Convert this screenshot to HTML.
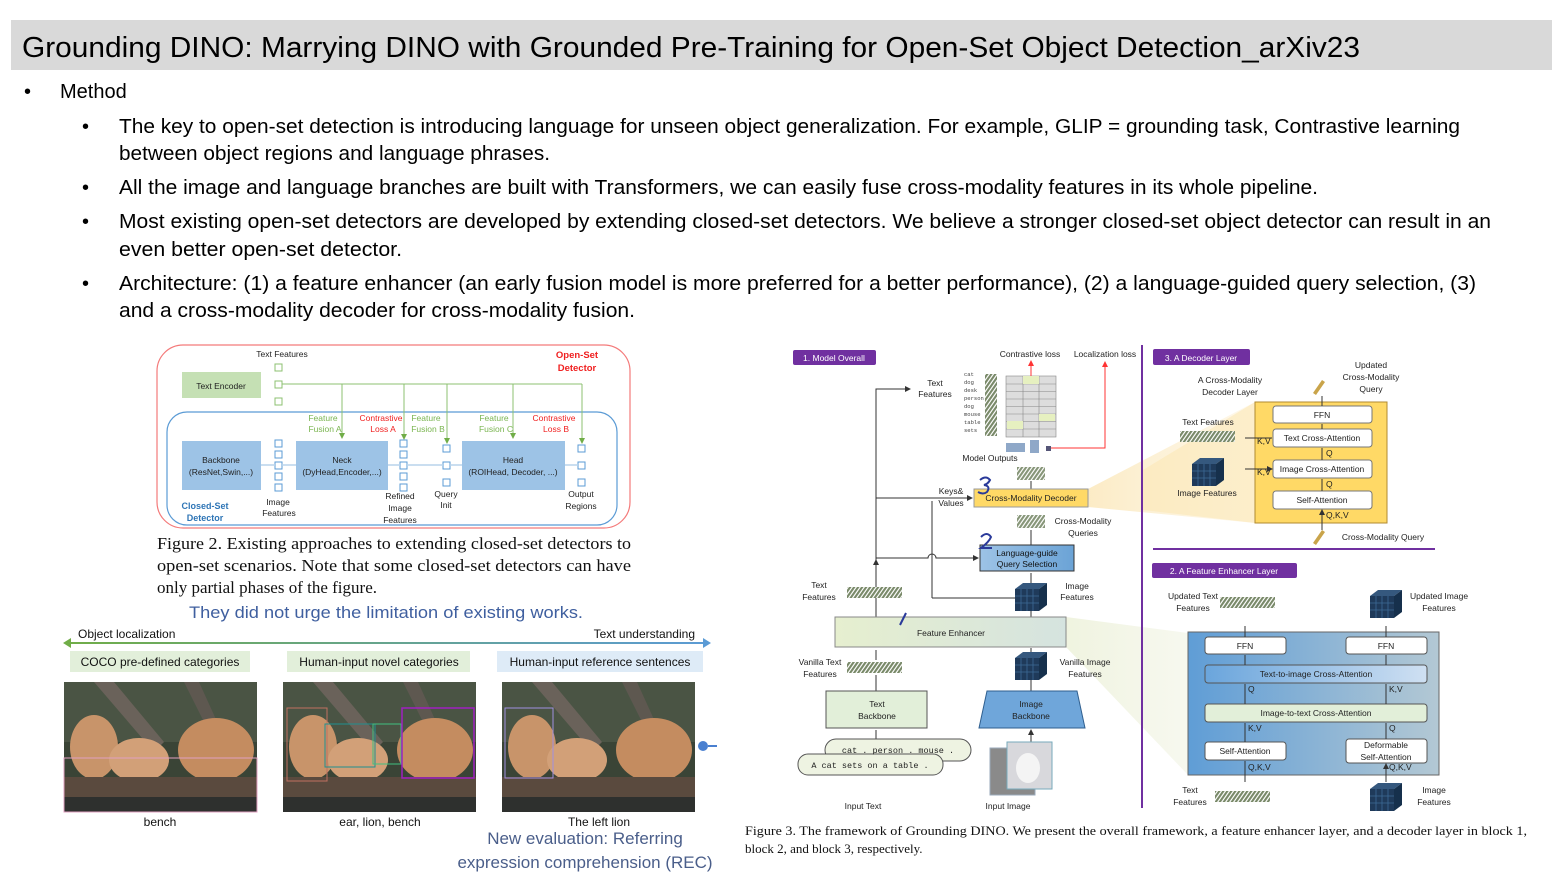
<!DOCTYPE html>
<html><head><meta charset="utf-8"><style>
html,body{margin:0;padding:0;background:#fff;}
svg{display:block;font-family:"Liberation Sans",sans-serif;}
.s{font-size:8.5px;fill:#222;}
.c{text-anchor:middle;}
</style></head><body>
<svg width="1563" height="875" viewBox="0 0 1563 875" xmlns="http://www.w3.org/2000/svg">
<defs>
<linearGradient id="arr" gradientUnits="userSpaceOnUse" x1="66" y1="0" x2="707" y2="0"><stop offset="0" stop-color="#70ad47"/><stop offset="1" stop-color="#5b9bd5"/></linearGradient>
<linearGradient id="fe" x1="0" x2="1"><stop offset="0" stop-color="#e6efcf"/><stop offset="1" stop-color="#d5e3df"/></linearGradient>
<linearGradient id="feb" x1="0" x2="1"><stop offset="0" stop-color="#5f9dd6"/><stop offset="1" stop-color="#b3c8d4"/></linearGradient>
<linearGradient id="t2i" x1="0" x2="1"><stop offset="0" stop-color="#6aa5dc"/><stop offset="1" stop-color="#cfe0f2"/></linearGradient>
<linearGradient id="lg" x1="0" x2="1"><stop offset="0" stop-color="#9dc3e6"/><stop offset="1" stop-color="#6ba3d6"/></linearGradient>
<linearGradient id="yw" x1="0" x2="1"><stop offset="0" stop-color="#fbe9bf" stop-opacity="0.9"/><stop offset="1" stop-color="#fdf3dc" stop-opacity="0.6"/></linearGradient>
<linearGradient id="gw" x1="0" x2="1"><stop offset="0" stop-color="#eef2dc" stop-opacity="0.9"/><stop offset="1" stop-color="#f3f5e8" stop-opacity="0.7"/></linearGradient>
<pattern id="st" width="4" height="12" patternUnits="userSpaceOnUse" patternTransform="skewX(-35)"><rect width="4" height="12" fill="#fff"/><rect width="2.6" height="12" fill="#7a8a6a"/></pattern>
<marker id="ah" markerWidth="6" markerHeight="6" refX="5" refY="3" orient="auto"><path d="M0,0L6,3L0,6z" fill="#333"/></marker>
<marker id="ahr" markerWidth="6" markerHeight="6" refX="5" refY="3" orient="auto"><path d="M0,0L6,3L0,6z" fill="#f33"/></marker>
<marker id="ahg" markerWidth="6" markerHeight="6" refX="5" refY="3" orient="auto"><path d="M0,0L6,3L0,6z" fill="#70ad47"/></marker>
<g id="lion">
<rect width="193" height="130" fill="#3a4436"/>
<rect y="0" width="193" height="60" fill="#4a5444"/>
<path d="M30,0L90,70L100,60L50,0z" fill="#6a625a"/>
<path d="M120,0L150,60L160,55L135,0z" fill="#5e5850"/>
<ellipse cx="30" cy="65" rx="24" ry="32" fill="#c8946a"/>
<ellipse cx="75" cy="78" rx="30" ry="22" fill="#d2a078"/>
<ellipse cx="152" cy="68" rx="38" ry="32" fill="#c48c60"/>
<rect x="0" y="95" width="193" height="20" fill="#5a4a3e"/>
<rect x="0" y="115" width="193" height="15" fill="#2e302e"/>
</g>
<g id="cube"><rect width="24" height="22" fill="#1f3a5a"/><path d="M0,0l8,-6h24l-8,6z" fill="#35587e"/><path d="M24,0l8,-6v22l-8,6z" fill="#16304c"/><path d="M6,0v22M12,0v22M18,0v22M0,7h24M0,14h24" stroke="#3d6a96" stroke-width="0.8"/></g>
</defs>

<!-- title -->
<rect x="11" y="20" width="1541" height="50" fill="#d9d9d9"/>
<text x="22" y="57" font-size="29" fill="#000" textLength="1338" lengthAdjust="spacingAndGlyphs">Grounding DINO: Marrying DINO with Grounded Pre-Training for Open-Set Object Detection_arXiv23</text>

<g font-size="20" fill="#000">
<text x="24" y="98">•</text><text x="60" y="98">Method</text>
<text x="82" y="133">•</text><text x="119" y="133" textLength="1341" lengthAdjust="spacingAndGlyphs">The key to open-set detection is introducing language for unseen object generalization. For example, GLIP = grounding task, Contrastive learning</text>
<text x="119" y="160" textLength="431" lengthAdjust="spacingAndGlyphs">between object regions and language phrases.</text>
<text x="82" y="194">•</text><text x="119" y="194" textLength="1199" lengthAdjust="spacingAndGlyphs">All the image and language branches are built with Transformers, we can easily fuse cross-modality features in its whole pipeline.</text>
<text x="82" y="228">•</text><text x="119" y="228" textLength="1372" lengthAdjust="spacingAndGlyphs">Most existing open-set detectors are developed by extending closed-set detectors. We believe a stronger closed-set object detector can result in an</text>
<text x="119" y="256" textLength="283" lengthAdjust="spacingAndGlyphs">even better open-set detector.</text>
<text x="82" y="290">•</text><text x="119" y="290" textLength="1357" lengthAdjust="spacingAndGlyphs">Architecture: (1) a feature enhancer (an early fusion model is more preferred for a better performance), (2) a language-guided query selection, (3)</text>
<text x="119" y="317" textLength="516" lengthAdjust="spacingAndGlyphs">and a cross-modality decoder for cross-modality fusion.</text>
</g>

<!-- Figure 2 -->
<rect x="157" y="345" width="473" height="183" rx="26" fill="none" stroke="#f47a7a" stroke-width="1.2"/>
<rect x="167" y="412" width="450" height="113" rx="20" fill="none" stroke="#5b9bd5" stroke-width="1.2"/>
<rect x="182" y="372" width="79" height="26" fill="#c5e0b4"/>
<text x="221" y="389" class="s c" font-size="9.5">Text Encoder</text>
<text x="282" y="357" class="s c">Text Features</text>
<text x="577" y="358" class="c" font-size="9.5" font-weight="bold" fill="#f02020">Open-Set</text>
<text x="577" y="371" class="c" font-size="9.5" font-weight="bold" fill="#f02020">Detector</text>
<g fill="#fff" stroke="#8cc070" stroke-width="1"><rect x="275" y="364" width="7" height="7"/><rect x="275" y="381" width="7" height="7"/><rect x="275" y="398" width="7" height="7"/></g>
<path d="M282,384H582" stroke="#8cc070" fill="none"/>
<g stroke="#8cc070" marker-end="url(#ahg)"><path d="M342,384V438"/><path d="M404,384V439"/><path d="M447,384V443"/><path d="M513,384V438"/><path d="M582,384V443"/></g>
<g font-size="8.5" class="c" fill="#7ab550"><text x="323" y="421">Feature</text><text x="325" y="432">Fusion A</text><text x="426" y="421">Feature</text><text x="428" y="432">Fusion B</text><text x="494" y="421">Feature</text><text x="496" y="432">Fusion C</text></g>
<g font-size="8.5" class="c" fill="#f02020"><text x="381" y="421">Contrastive</text><text x="383" y="432">Loss A</text><text x="554" y="421">Contrastive</text><text x="556" y="432">Loss B</text></g>
<g fill="#9dc3e6"><rect x="182" y="441" width="79" height="49"/><rect x="296" y="441" width="92" height="49"/><rect x="462" y="441" width="103" height="49"/></g>
<g class="s c" font-size="9.5"><text x="221" y="463">Backbone</text><text x="342" y="463">Neck</text><text x="513" y="463">Head</text></g>
<g class="s c" font-size="8"><text x="221" y="475">(ResNet,Swin,...)</text><text x="342" y="475">(DyHead,Encoder,...)</text><text x="513" y="475">(ROIHead, Decoder, ...)</text></g>
<g fill="#fff" stroke="#5b9bd5"><rect x="275" y="440" width="7" height="7"/><rect x="275" y="451" width="7" height="7"/><rect x="275" y="462" width="7" height="7"/><rect x="275" y="473" width="7" height="7"/><rect x="275" y="484" width="7" height="7"/>
<rect x="400" y="440" width="7" height="7"/><rect x="400" y="451" width="7" height="7"/><rect x="400" y="462" width="7" height="7"/><rect x="400" y="473" width="7" height="7"/><rect x="400" y="484" width="7" height="7"/>
<rect x="443" y="445" width="7" height="7"/><rect x="443" y="462" width="7" height="7"/><rect x="443" y="479" width="7" height="7"/>
<rect x="578" y="445" width="7" height="7"/><rect x="578" y="462" width="7" height="7"/><rect x="578" y="479" width="7" height="7"/></g>
<path d="M261,465H275M282,465H296M388,465H400M407,465H443M450,465H462M565,465H578" stroke="#b8d4ec" stroke-width="1.5"/>
<text x="205" y="509" class="c" font-size="9" font-weight="bold" fill="#2e75b6">Closed-Set</text>
<text x="205" y="521" class="c" font-size="9" font-weight="bold" fill="#2e75b6">Detector</text>
<g class="s c"><text x="278" y="505">Image</text><text x="279" y="516">Features</text><text x="400" y="499">Refined</text><text x="400" y="511">Image</text><text x="400" y="523">Features</text><text x="446" y="497">Query</text><text x="446" y="508">Init</text><text x="581" y="497">Output</text><text x="581" y="509">Regions</text></g>
<g font-family="Liberation Serif,serif" font-size="17" fill="#111">
<text x="157" y="549" textLength="474" lengthAdjust="spacingAndGlyphs">Figure 2. Existing approaches to extending closed-set detectors to</text>
<text x="157" y="571" textLength="474" lengthAdjust="spacingAndGlyphs">open-set scenarios.  Note that some closed-set detectors can have</text>
<text x="157" y="593">only partial phases of the figure.</text>
</g>
<text x="189" y="618" font-size="17" fill="#3f5f9f" textLength="394" lengthAdjust="spacingAndGlyphs">They did not urge the limitation of existing works.</text>

<!-- REC row -->
<text x="78" y="638" font-size="12" fill="#111">Object localization</text>
<text x="695" y="638" font-size="12" fill="#111" text-anchor="end">Text understanding</text>
<path d="M66,643H707" stroke="url(#arr)" stroke-width="2"/>
<path d="M63,643l8,-5v10z" fill="#70ad47"/><path d="M711,643l-8,-5v10z" fill="#5b9bd5"/>
<rect x="70" y="651" width="180" height="21" fill="#e2efda"/><rect x="287" y="651" width="183" height="21" fill="#e2efda"/><rect x="497" y="651" width="206" height="21" fill="#deebf7"/>
<g font-size="12" fill="#111" class="c"><text x="160" y="666">COCO pre-defined categories</text><text x="379" y="666">Human-input novel categories</text><text x="600" y="666">Human-input reference sentences</text></g>
<use href="#lion" x="64" y="682"/><use href="#lion" x="283" y="682"/><use href="#lion" x="502" y="682"/>
<rect x="64" y="758" width="193" height="54" fill="none" stroke="#e0a0c0"/>
<rect x="287" y="708" width="40" height="73" fill="none" stroke="#c07060"/><rect x="325" y="724" width="50" height="43" fill="none" stroke="#209090"/><rect x="373" y="724" width="28" height="40" fill="none" stroke="#40c080"/><rect x="402" y="708" width="72" height="70" fill="none" stroke="#a020c0" stroke-width="1.5"/>
<rect x="505" y="708" width="48" height="70" fill="none" stroke="#a090e0"/>
<circle cx="703" cy="746" r="5" fill="#4a80d0"/><path d="M708,746H717" stroke="#4a80d0" stroke-width="2"/>
<g font-size="12" fill="#111" class="c"><text x="160" y="826">bench</text><text x="380" y="826">ear, lion, bench</text><text x="599" y="826">The left lion</text></g>
<g font-size="17" fill="#4a5e8a" class="c"><text x="585" y="844">New evaluation: Referring</text><text x="585" y="868">expression comprehension (REC)</text></g>

<!-- Figure 3 wedges -->
<path d="M1088,489L1255,402V523L1088,507z" fill="url(#yw)"/>
<path d="M1066,617L1188,633V775L1066,647z" fill="url(#gw)"/>
<path d="M1143,470L1255,402V523L1143,510z" fill="#fbe7b5" opacity="0.6"/>

<!-- block 1 -->
<rect x="793" y="350" width="83" height="15" rx="2" fill="#7030a0"/>
<text x="834" y="361" class="c" font-size="8.5" fill="#fff">1. Model Overall</text>
<text x="1030" y="357" class="s c">Contrastive loss</text><text x="1105" y="357" class="s c">Localization loss</text>
<g stroke="#888" stroke-width="0.6" fill="#ddd"><rect x="1006" y="376" width="50" height="61"/></g>
<g stroke="#888" stroke-width="0.6"><path d="M1006,384H1056M1006,391.5H1056M1006,399H1056M1006,406.5H1056M1006,414H1056M1006,421.5H1056M1006,429H1056M1023,376V437M1039,376V437"/></g>
<rect x="1023" y="376" width="16" height="8" fill="#e6f0c0"/><rect x="1039" y="414" width="16" height="7" fill="#e6f0c0"/><rect x="1007" y="421" width="16" height="8" fill="#e6f0c0"/>
<g font-family="Liberation Mono,monospace" font-size="5.5" fill="#444"><text x="964" y="376">cat</text><text x="964" y="384">dog</text><text x="964" y="392">desk</text><text x="964" y="400">person</text><text x="964" y="408">dog</text><text x="964" y="416">mouse</text><text x="964" y="424">table</text><text x="964" y="432">sets</text></g>
<rect x="985" y="374" width="12" height="62" fill="url(#st)"/>
<rect x="1006" y="443" width="19" height="9" fill="#8fa8c8"/><rect x="1030" y="440" width="9" height="13" fill="#8fa8c8"/><rect x="1046" y="446" width="5" height="5" fill="#557"/>
<path d="M1031,376V361" stroke="#f33" marker-end="url(#ahr)"/>
<path d="M1051,448H1105V362" stroke="#f33" fill="none" marker-end="url(#ahr)"/>
<text x="990" y="461" class="s c">Model Outputs</text>
<text x="935" y="386" class="s c">Text</text><text x="935" y="397" class="s c">Features</text>
<path d="M876,617V389H910" stroke="#333" fill="none" marker-end="url(#ah)"/>
<rect x="1017" y="467" width="28" height="13" fill="url(#st)" opacity="0.9"/>
<rect x="1017" y="515" width="28" height="13" fill="url(#st)" opacity="0.9"/>
<path d="M1031,489V481M1031,545V530M1031,583V573M1031,617V610M1031,652V648M1031,691V678M1031,742V730" stroke="#333" marker-end="url(#ah)"/>
<rect x="974" y="489" width="114" height="18" fill="#ffd966" stroke="#999"/>
<text x="1031" y="501" class="c" font-size="8.5" fill="#222">Cross-Modality Decoder</text>
<text x="951" y="494" class="s c">Keys&amp;</text><text x="951" y="506" class="s c">Values</text>
<path d="M876,498H972" stroke="#333" marker-end="url(#ah)"/>
<path d="M932,598V501" stroke="#333" fill="none"/>
<path d="M1015,598H932" stroke="#333"/>
<path d="M876,558H928a4,4 0 0 1 8,0H978" stroke="#333" fill="none" marker-end="url(#ah)"/>
<rect x="980" y="545" width="94" height="26" fill="url(#lg)" stroke="#333"/>
<text x="1027" y="556" class="c" font-size="8.5" fill="#111">Language-guide</text><text x="1027" y="567" class="c" font-size="8.5" fill="#111">Query Selection</text>
<text x="1083" y="524" class="s c">Cross-Modality</text><text x="1083" y="536" class="s c">Queries</text>
<use href="#cube" x="1015" y="589"/>
<text x="1077" y="589" class="s c">Image</text><text x="1077" y="600" class="s c">Features</text>
<text x="819" y="588" class="s c">Text</text><text x="819" y="600" class="s c">Features</text>
<rect x="847" y="587" width="55" height="11" fill="url(#st)"/>
<rect x="835" y="617" width="231" height="30" fill="url(#fe)" stroke="#888"/>
<text x="951" y="636" class="c" font-size="8.5" fill="#222">Feature Enhancer</text>
<text x="820" y="665" class="s c">Vanilla Text</text><text x="820" y="677" class="s c">Features</text>
<rect x="847" y="662" width="55" height="11" fill="url(#st)"/>
<use href="#cube" x="1015" y="658"/>
<text x="1085" y="665" class="s c">Vanilla Image</text><text x="1085" y="677" class="s c">Features</text>
<path d="M876,691V675M876,660V650M876,585V560" stroke="#333" marker-end="url(#ah)"/>
<rect x="826" y="691" width="101" height="37" fill="#e2efd9" stroke="#555"/>
<text x="877" y="707" class="s c">Text</text><text x="877" y="719" class="s c">Backbone</text>
<path d="M987,691H1077L1085,728H979z" fill="#6fa6da" stroke="#2f5f8f"/>
<text x="1031" y="707" class="s c">Image</text><text x="1031" y="719" class="s c">Backbone</text>
<path d="M876,739V730" stroke="#333"/>
<rect x="825" y="739" width="146" height="22" rx="11" fill="#eef3e2" stroke="#555"/>
<rect x="798" y="754" width="145" height="21" rx="10" fill="#eef3e2" stroke="#555"/>
<text x="898" y="753" class="c" font-family="Liberation Mono,monospace" font-size="8.5" fill="#222">cat . person . mouse .</text>
<text x="870" y="768" class="c" font-family="Liberation Mono,monospace" font-size="8.5" fill="#222">A cat sets on a table .</text>
<rect x="990" y="748" width="45" height="47" fill="#8a8a8a" stroke="#9ab"/>
<rect x="1007" y="742" width="45" height="47" fill="#d8d8dc" stroke="#7ab"/>
<ellipse cx="1028" cy="768" rx="12" ry="15" fill="#f4f4f4"/>
<text x="863" y="809" class="s c">Input Text</text><text x="1008" y="809" class="s c">Input Image</text>
<g fill="none" stroke="#2a3a9a" stroke-width="2"><path d="M980,480q6,-5 10,0q-2,4 -6,5q7,1 3,7q-4,3 -9,0"/><path d="M981,537q6,-6 10,0q-2,5 -10,11h11"/><path d="M900,625l6,-12"/></g>

<!-- dividers -->
<path d="M1142,345V808" stroke="#7030a0" stroke-width="2"/>
<path d="M1153,549H1435" stroke="#7030a0" stroke-width="2"/>

<!-- block 3 -->
<rect x="1153" y="349" width="97" height="16" rx="2" fill="#7030a0"/>
<text x="1201" y="361" class="c" font-size="8.5" fill="#fff">3. A Decoder Layer</text>
<text x="1230" y="383" class="s c">A Cross-Modality</text><text x="1230" y="395" class="s c">Decoder Layer</text>
<text x="1371" y="368" class="s c">Updated</text><text x="1371" y="380" class="s c">Cross-Modality</text><text x="1371" y="392" class="s c">Query</text>
<path d="M1313,393l9,-13l3,2l-9,13z" fill="#c9a44a"/>
<rect x="1255" y="402" width="132" height="121" fill="#ffd966" stroke="#b08a30"/>
<g fill="#fff" stroke="#777"><rect x="1273" y="406" width="99" height="17" rx="3"/><rect x="1273" y="429" width="99" height="18" rx="3"/><rect x="1273" y="460" width="99" height="18" rx="3"/><rect x="1273" y="491" width="99" height="18" rx="3"/></g>
<g class="s c"><text x="1322" y="418">FFN</text><text x="1322" y="441">Text Cross-Attention</text><text x="1322" y="472">Image Cross-Attention</text><text x="1322" y="503">Self-Attention</text></g>
<path d="M1322,406V396M1322,429V424M1322,460V448M1322,491V479M1322,530V510" stroke="#333" marker-end="url(#ah)"/>
<g class="s" font-size="8"><text x="1326" y="456">Q</text><text x="1326" y="487">Q</text><text x="1326" y="518">Q,K,V</text><text x="1257" y="444">K,V</text><text x="1257" y="475">K,V</text></g>
<path d="M1245,438H1272M1245,469H1272" stroke="#333" marker-end="url(#ah)"/>
<text x="1208" y="425" class="s c">Text Features</text>
<rect x="1180" y="431" width="55" height="11" fill="url(#st)"/>
<use href="#cube" x="1192" y="464"/>
<text x="1207" y="496" class="s c">Image Features</text>
<path d="M1313,543l9,-13l3,2l-9,13z" fill="#c9a44a"/>
<text x="1383" y="540" class="s c">Cross-Modality Query</text>

<!-- block 2 -->
<rect x="1152" y="563" width="145" height="15" rx="2" fill="#7030a0"/>
<text x="1224" y="574" class="c" font-size="8.5" fill="#fff">2. A Feature Enhancer Layer</text>
<text x="1193" y="599" class="s c">Updated Text</text><text x="1193" y="611" class="s c">Features</text>
<rect x="1220" y="597" width="55" height="11" fill="url(#st)"/>
<use href="#cube" x="1370" y="596"/>
<text x="1439" y="599" class="s c">Updated Image</text><text x="1439" y="611" class="s c">Features</text>
<rect x="1188" y="632" width="251" height="143" fill="url(#feb)" stroke="#666"/>
<g fill="#fff" stroke="#555"><rect x="1205" y="637" width="81" height="17" rx="3"/><rect x="1346" y="637" width="81" height="17" rx="3"/><rect x="1205" y="742" width="81" height="18" rx="3"/><rect x="1346" y="739" width="81" height="24" rx="3"/></g>
<rect x="1205" y="665" width="222" height="18" rx="3" fill="url(#t2i)" stroke="#555"/>
<rect x="1205" y="704" width="222" height="18" rx="3" fill="#e2efd9" stroke="#555"/>
<g class="s c"><text x="1245" y="649">FFN</text><text x="1386" y="649">FFN</text><text x="1316" y="677">Text-to-image Cross-Attention</text><text x="1316" y="716">Image-to-text Cross-Attention</text><text x="1245" y="754">Self-Attention</text><text x="1386" y="748">Deformable</text><text x="1386" y="760">Self-Attention</text></g>
<path d="M1245,637V626M1386,637V626M1245,665V655M1386,665V655M1245,704V684M1386,704V684M1245,742V723M1386,739V723M1245,782V761M1386,782V764" stroke="#333" marker-end="url(#ah)"/>
<g class="s" font-size="8"><text x="1248" y="692">Q</text><text x="1389" y="692">K,V</text><text x="1248" y="731">K,V</text><text x="1389" y="731">Q</text><text x="1248" y="770">Q,K,V</text><text x="1389" y="770">Q,K,V</text></g>
<text x="1190" y="793" class="s c">Text</text><text x="1190" y="805" class="s c">Features</text>
<rect x="1215" y="791" width="55" height="11" fill="url(#st)"/>
<use href="#cube" x="1370" y="789"/>
<text x="1434" y="793" class="s c">Image</text><text x="1434" y="805" class="s c">Features</text>

<g font-family="Liberation Serif,serif" font-size="13" fill="#111">
<text x="745" y="835" textLength="782" lengthAdjust="spacingAndGlyphs">Figure 3. The framework of Grounding DINO. We present the overall framework, a feature enhancer layer, and a decoder layer in block 1,</text>
<text x="745" y="853">block 2, and block 3, respectively.</text>
</g>
</svg>
</body></html>
